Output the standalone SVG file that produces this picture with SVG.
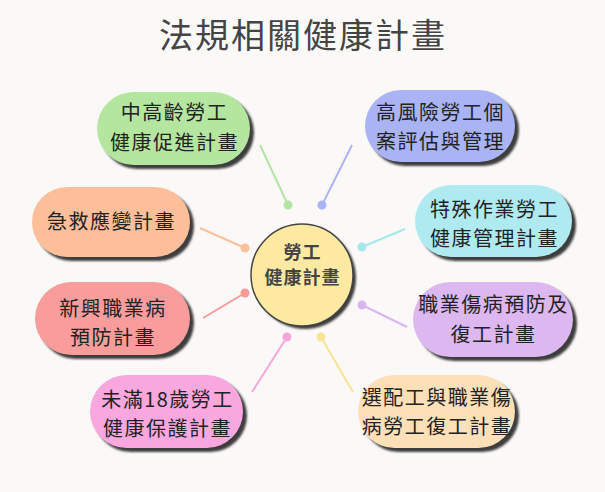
<svg xmlns="http://www.w3.org/2000/svg" width="605" height="492" viewBox="0 0 605 492">
<defs>
<filter id="sh" x="-10%" y="-10%" width="130%" height="130%"><feGaussianBlur stdDeviation="0.8"/></filter>
</defs>
<style>
.t{font-family:"Noto Sans CJK TC","Noto Sans CJK SC",sans-serif;font-size:20px;fill:#222;text-anchor:middle;letter-spacing:1.5px}
.title{font-family:"Noto Sans CJK TC","Noto Sans CJK SC",sans-serif;font-size:34px;fill:#444;text-anchor:middle;letter-spacing:2px}
.ct{font-family:"Noto Sans CJK TC","Noto Sans CJK SC",sans-serif;font-size:18px;font-weight:bold;fill:#444;text-anchor:middle;letter-spacing:1px}
.shd{fill:#3c3c3c;filter:url(#sh)}
.ln{stroke-width:2;fill:none}
</style>
<rect width="605" height="492" fill="#fbf9f8"/>
<text class="title" x="303" y="48">法規相關健康計畫</text>
<g id="connectors">
<line class="ln" x1="260" y1="145" x2="288" y2="205" stroke="#b5e3a3"/><circle cx="288" cy="205" r="4.5" fill="#b5e3a3"/>
<line class="ln" x1="352" y1="145" x2="322" y2="205" stroke="#a9b4f5"/><circle cx="322" cy="205" r="4.5" fill="#a9b4f5"/>
<line class="ln" x1="200" y1="228" x2="245" y2="248" stroke="#fbbf9c"/><circle cx="245" cy="248" r="4.5" fill="#fbbf9c"/>
<line class="ln" x1="405" y1="229" x2="362" y2="247" stroke="#a9e6ee"/><circle cx="362" cy="247" r="4.5" fill="#a9e6ee"/>
<line class="ln" x1="203" y1="318" x2="245" y2="293" stroke="#f79a9a"/><circle cx="245" cy="293" r="4.5" fill="#f79a9a"/>
<line class="ln" x1="407" y1="327" x2="362" y2="305" stroke="#dab6f0"/><circle cx="362" cy="305" r="4.5" fill="#dab6f0"/>
<line class="ln" x1="252" y1="392" x2="287" y2="337" stroke="#f7a6dc"/><circle cx="287" cy="337" r="4.5" fill="#f7a6dc"/>
<line class="ln" x1="353" y1="392" x2="321" y2="337" stroke="#f8e392"/><circle cx="321" cy="337" r="4.5" fill="#f8e392"/>
</g>
<g id="center">
<circle class="shd" cx="305" cy="278" r="51"/>
<circle cx="302" cy="275" r="51" fill="#fde9a2" stroke="#444" stroke-width="1.5"/>
<text class="ct" x="302.5" y="259">勞工</text>
<text class="ct" x="302.5" y="284">健康計畫</text>
</g>
<g id="n1">
<rect class="shd" x="101" y="96" width="153" height="73" rx="36.5"/>
<rect x="97" y="92" width="153" height="73" rx="36.5" fill="#b5e6a0"/>
<text class="t" x="174.5" y="120">中高齡勞工</text>
<text class="t" x="174.5" y="150">健康促進計畫</text>
</g>
<g id="n2">
<rect class="shd" x="369" y="94" width="150" height="72" rx="36"/>
<rect x="365" y="90" width="150" height="72" rx="36" fill="#aab4f5"/>
<text class="t" x="440.5" y="120">高風險勞工個</text>
<text class="t" x="440.5" y="149">案評估與管理</text>
</g>
<g id="n3">
<rect class="shd" x="36" y="191" width="158" height="70" rx="35"/>
<rect x="32" y="187" width="158" height="70" rx="35" fill="#fdbf9a"/>
<text class="t" x="111.5" y="229">急救應變計畫</text>
</g>
<g id="n4">
<rect class="shd" x="39" y="286" width="155" height="73" rx="36.5"/>
<rect x="35" y="282" width="155" height="73" rx="36.5" fill="#f99c9c"/>
<text class="t" x="113" y="316">新興職業病</text>
<text class="t" x="113" y="345">預防計畫</text>
</g>
<g id="n5">
<rect class="shd" x="94" y="379" width="153" height="73" rx="36.5"/>
<rect x="90" y="375" width="153" height="73" rx="36.5" fill="#f9a8df"/>
<text class="t" x="167.5" y="407">未滿18歲勞工</text>
<text class="t" x="167.5" y="436">健康保護計畫</text>
</g>
<g id="n6">
<rect class="shd" x="419" y="189" width="157" height="72" rx="36"/>
<rect x="415" y="185" width="157" height="72" rx="36" fill="#aeeaf0"/>
<text class="t" x="494.5" y="217">特殊作業勞工</text>
<text class="t" x="494.5" y="246">健康管理計畫</text>
</g>
<g id="n7">
<rect class="shd" x="417" y="286" width="160" height="75" rx="37.5"/>
<rect x="413" y="282" width="160" height="75" rx="37.5" fill="#dcb7f0"/>
<text class="t" x="493.5" y="312">職業傷病預防及</text>
<text class="t" x="493.5" y="342">復工計畫</text>
</g>
<g id="n8">
<rect class="shd" x="362" y="379" width="157" height="73" rx="36.5"/>
<rect x="358" y="375" width="157" height="73" rx="36.5" fill="#fde0b8"/>
<text class="t" x="437" y="405">選配工與職業傷</text>
<text class="t" x="437" y="434">病勞工復工計畫</text>
</g>
</svg>
